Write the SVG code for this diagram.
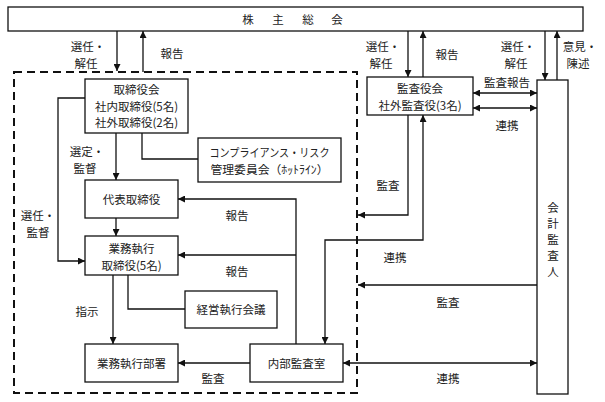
<svg xmlns="http://www.w3.org/2000/svg" width="605" height="402" viewBox="0 0 605 402">
<defs>
<marker id="ah" viewBox="0 0 10 10" refX="10" refY="5" markerWidth="8" markerHeight="7" markerUnits="userSpaceOnUse" orient="auto-start-reverse">
<path d="M0,0 L10,5 L0,10 Z" fill="#111"/>
</marker>
<style>
.box{fill:#fff;stroke:#111;stroke-width:1.3}
.t{font-family:"Noto Sans CJK JP","Noto Sans",sans-serif;font-size:11.5px;fill:#222;text-anchor:middle;dominant-baseline:central}
.c{fill:none;stroke:#111;stroke-width:1.3}
.a{marker-end:url(#ah)}
.d{marker-start:url(#ah);marker-end:url(#ah)}
</style>
</defs>
<rect width="605" height="402" fill="#fff"/>
<g id="shareholders">
<rect class="box" x="8" y="7" width="575" height="24"/>
<text class="t" x="248 278 308 337" y="19">株主総会</text>
</g>
<g id="governance-boundary">
<rect x="14" y="72" width="343" height="321" fill="none" stroke="#111" stroke-width="2" stroke-dasharray="8,5"/>
</g>
<g id="board">
<rect class="box" x="85" y="79" width="103" height="54"/>
<text class="t" x="136.5" y="89">取締役会</text>
<text class="t" x="136.5" y="105.5">社内取締役(5名)</text>
<text class="t" x="136.5" y="122">社外取締役(2名)</text>
</g>
<g id="compliance">
<rect class="box" x="198" y="138" width="143" height="44"/>
<text class="t" x="269.5" y="152" textLength="120" lengthAdjust="spacingAndGlyphs">コンプライアンス・リスク</text>
<text class="t" x="269.5" y="169" textLength="118" lengthAdjust="spacingAndGlyphs">管理委員会（ﾎｯﾄﾗｲﾝ）</text>
</g>
<g id="representative">
<rect class="box" x="85" y="180" width="93" height="38"/>
<text class="t" x="131.5" y="199">代表取締役</text>
</g>
<g id="executive-directors">
<rect class="box" x="85" y="236" width="93" height="39"/>
<text class="t" x="131.5" y="247.5">業務執行</text>
<text class="t" x="131.5" y="264.5">取締役(5名)</text>
</g>
<g id="management-meeting">
<rect class="box" x="185" y="291" width="92" height="37"/>
<text class="t" x="231" y="309">経営執行会議</text>
</g>
<g id="business-divisions">
<rect class="box" x="85" y="344" width="93" height="38"/>
<text class="t" x="131.5" y="363">業務執行部署</text>
</g>
<g id="internal-audit">
<rect class="box" x="250" y="344" width="93" height="38"/>
<text class="t" x="296.5" y="363">内部監査室</text>
</g>
<g id="audit-board">
<rect class="box" x="367" y="77" width="106" height="38"/>
<text class="t" x="420" y="88">監査役会</text>
<text class="t" x="420" y="104.5">社外監査役(3名)</text>
</g>
<g id="accounting-auditor">
<rect class="box" x="537" y="80" width="31" height="314"/>
<text class="t" x="553" y="207">会</text>
<text class="t" x="553" y="223">計</text>
<text class="t" x="553" y="239">監</text>
<text class="t" x="553" y="255">査</text>
<text class="t" x="553" y="271">人</text>
</g>
<g id="connectors">
<path class="c a" d="M117,31 V71"/>
<path class="c a" d="M143,72 V31"/>
<path class="c a" d="M408,31 V77"/>
<path class="c a" d="M423,77 V31"/>
<path class="c a" d="M545,31 V80"/>
<path class="c a" d="M557,80 V31"/>
<path class="c a" d="M116,133 V180"/>
<path class="c" d="M142,133 V159 H198"/>
<path class="c a" d="M85,98 H58 V261 H85"/>
<path class="c a" d="M116,218 V236"/>
<path class="c a" d="M113,275 V344"/>
<path class="c" d="M128,275 V309 H185"/>
<path class="c a" d="M296,344 V199 H178"/>
<path class="c a" d="M296,255 H178"/>
<path class="c a" d="M250,363 H178"/>
<path class="c d" d="M325,344 V240 H423 V115"/>
<path class="c a" d="M408,115 V215 H358"/>
<path class="c d" d="M473,93 H537"/>
<path class="c d" d="M473,108 H537"/>
<path class="c a" d="M537,285 H358"/>
<path class="c d" d="M343,363 H537"/>
</g>
<g id="labels">
<text class="t" x="88" y="46">選任・</text>
<text class="t" x="86" y="63">解任</text>
<text class="t" x="172" y="53">報告</text>
<text class="t" x="383" y="46">選任・</text>
<text class="t" x="381" y="63">解任</text>
<text class="t" x="447" y="54">報告</text>
<text class="t" x="518" y="46">選任・</text>
<text class="t" x="516" y="63">解任</text>
<text class="t" x="580" y="46">意見・</text>
<text class="t" x="578" y="63">陳述</text>
<text class="t" x="507" y="82">監査報告</text>
<text class="t" x="507" y="125">連携</text>
<text class="t" x="87" y="151">選定・</text>
<text class="t" x="85" y="168">監督</text>
<text class="t" x="38" y="215">選任・</text>
<text class="t" x="38" y="232">監督</text>
<text class="t" x="237" y="215">報告</text>
<text class="t" x="237" y="271">報告</text>
<text class="t" x="87" y="311">指示</text>
<text class="t" x="213" y="378">監査</text>
<text class="t" x="388" y="185">監査</text>
<text class="t" x="395" y="257">連携</text>
<text class="t" x="448" y="302">監査</text>
<text class="t" x="448" y="378">連携</text>
</g>
</svg>
